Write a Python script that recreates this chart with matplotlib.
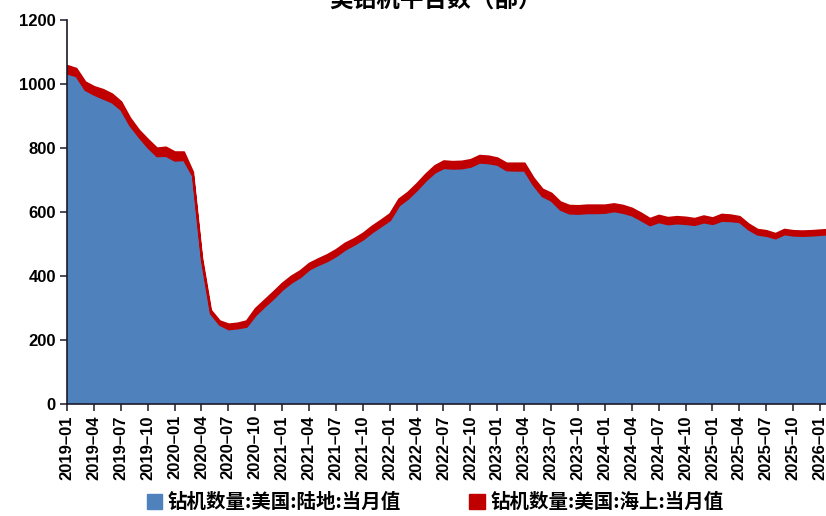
import numpy as np
import pandas as pd
import matplotlib
matplotlib.use('Agg')
import matplotlib.pyplot as plt
from matplotlib.patches import Patch

# monthly rig counts, 2019-01 .. 2026-02
months = pd.date_range('2019-01-01', periods=86, freq='MS').strftime('%Y-%m').tolist()

land = [1034, 1026, 983, 968, 956, 944, 921, 872, 836, 803, 776, 777,
        762, 764, 714, 450, 284, 249, 235, 238, 243, 279, 306, 331,
        359, 381, 398, 422, 436, 448, 464, 484, 499, 516, 538, 557,
        576, 622, 643, 670, 700, 725, 739, 737, 738, 743, 756, 754,
        749, 732, 731, 731, 686, 651, 637, 609, 597, 596, 598, 598,
        599, 604, 599, 591, 576, 560, 570, 563, 566, 564, 561, 569,
        564, 574, 573, 570, 547, 531, 527, 519, 532, 528, 527, 528,
        530, 532]
offshore = [24, 23, 24, 24, 27, 25, 24, 22, 20, 24, 24, 26,
            26, 24, 12, 10, 10, 11, 15, 15, 17, 20, 19, 20,
            19, 19, 19, 18, 18, 19, 19, 19, 18, 18, 18, 18,
            19, 19, 19, 19, 19, 20, 21, 21, 21, 21, 21, 21,
            20, 21, 22, 22, 21, 21, 22, 23, 24, 24, 24, 24,
            23, 22, 22, 21, 21, 20, 20, 20, 20, 20, 19, 19,
            18, 19, 18, 16, 16, 15, 15, 14, 14, 14, 14, 14,
            14, 14]

title = '美钻机平台数（部）'
name_land = '钻机数量:美国:陆地:当月值'
name_off = '钻机数量:美国:海上:当月值'

blue = '#4F81BD'
red = '#C00000'
tick_font = 'Liberation Sans'
cjk = ['Noto Sans CJK SC', 'DejaVu Sans']

x = np.arange(len(months))

fig = plt.figure(figsize=(8.26, 5.16), dpi=100)
ax = fig.add_axes([67/826, 1-404/516, 1-67/826, (404-20)/516])

polys = ax.stackplot(x, land, offshore, colors=[blue, red], linewidth=0)
# red band drawn with a stroke so it keeps its width on steep parts
polys[1].set_edgecolor(red)
polys[1].set_linewidth(1.6)

ax.set_xlim(0, 84.67)
ax.set_ylim(0, 1200)
ax.set_yticks(range(0, 1201, 200))
ax.set_xticks(x[::3][:29])
ax.set_xticklabels([m.replace('-', '–') for m in months[::3][:29]], rotation=90)

for s in ['top', 'right']:
    ax.spines[s].set_visible(False)
for s in ['left', 'bottom']:
    ax.spines[s].set_color('#1a1a2a')
    ax.spines[s].set_linewidth(1.2)
    ax.spines[s].set_zorder(5)
ax.tick_params(direction='out', length=5, width=1.1, color='#1a1a2a', pad=3)
for lab in ax.get_xticklabels() + ax.get_yticklabels():
    lab.set_fontfamily(tick_font)
    lab.set_fontweight('bold')
    lab.set_fontsize(12)

fig.text(0.527, 1.0, title, ha='center', va='center', fontsize=17,
         fontweight='bold', family=cjk)

handles = [Patch(color=blue, label=name_land), Patch(color=red, label=name_off)]
fig.legend(handles=handles, loc='center', bbox_to_anchor=(0.527, 0.026), ncol=2,
           frameon=False, handlelength=0.8, handleheight=0.8, handletextpad=0.3,
           columnspacing=3.5, prop={'family': cjk, 'weight': 'bold', 'size': 14})

plt.savefig('out.png', dpi=100)
